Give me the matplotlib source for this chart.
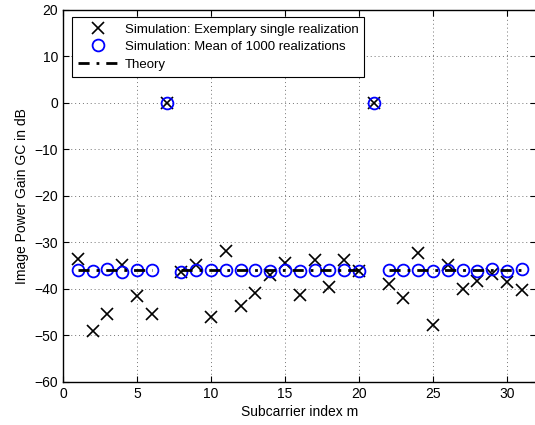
import numpy as np
import matplotlib
matplotlib.use("Agg")
import matplotlib.pyplot as plt

plt.rcParams["font.family"] = ["Liberation Sans", "DejaVu Sans"]
plt.rcParams["font.size"] = 10

# subcarrier index
m = np.arange(1, 32)

# single realization (dB)
single = [-33.6, -49.0, -45.4, -34.8, -41.6, -45.4, 0.0, -36.3, -34.8, -46.1,
          -31.8, -43.7, -40.9, -37.0, -34.5, -41.3, -33.8, -39.6, -33.8, -36.1,
          0.0, -38.9, -41.9, -32.3, -47.7, -34.8, -39.9, -38.2, -36.8, -38.4,
          -40.2]

# mean of 1000 realizations (dB)
mean = [-36.0, -36.1, -35.6, -36.3, -36.0, -36.0, 0.0, -36.4, -36.0, -36.0,
        -36.0, -36.0, -36.0, -36.2, -36.0, -36.1, -36.0, -36.0, -36.0, -36.1,
        0.0, -36.0, -36.0, -35.9, -36.1, -35.9, -36.0, -36.2, -35.6, -36.1,
        -35.7]

# theory (no value at carriers 7 and 21)
theory = [-36.0] * 31
theory[6] = np.nan
theory[20] = np.nan

fig = plt.figure(figsize=(5.35, 4.25), dpi=100)
ax = fig.add_axes([0.1178, 0.1012, 0.885, 0.8753])

ax.plot(m, single, "x", color="k", markersize=8, markeredgewidth=1.2,
        label="Simulation: Exemplary single realization")
ax.plot(m, mean, "o", color="b", markerfacecolor="none", markersize=8.5,
        markeredgewidth=1.3, label="Simulation: Mean of 1000 realizations")
ax.plot(m, theory, "-.", color="k", linewidth=2, dashes=(4, 2.5, 1, 2.5),
        label="Theory")

ax.set_xlim(0, 32)
ax.set_ylim(-60, 20)
ax.set_xticks(np.arange(0, 31, 5))
ax.set_yticks(np.arange(-60, 21, 10))
ax.tick_params(direction="in", length=4, top=True, right=True)
ax.grid(True, linestyle=(0, (1, 3)), color="0.45", linewidth=0.7)
for s in ax.spines.values():
    s.set_linewidth(1.0)

ax.set_xlabel("Subcarrier index m", labelpad=3)
ax.set_ylabel("Image Power Gain GC in dB")

leg = ax.legend(loc="upper left", bbox_to_anchor=(0.02, 0.98), fancybox=False,
                framealpha=1, edgecolor="k", borderpad=0.45, labelspacing=0.4,
                handlelength=3.0, handletextpad=0.5, borderaxespad=0,
                fontsize=9.5)
leg.get_frame().set_linewidth(0.8)

fig.savefig("out.png", dpi=100)
